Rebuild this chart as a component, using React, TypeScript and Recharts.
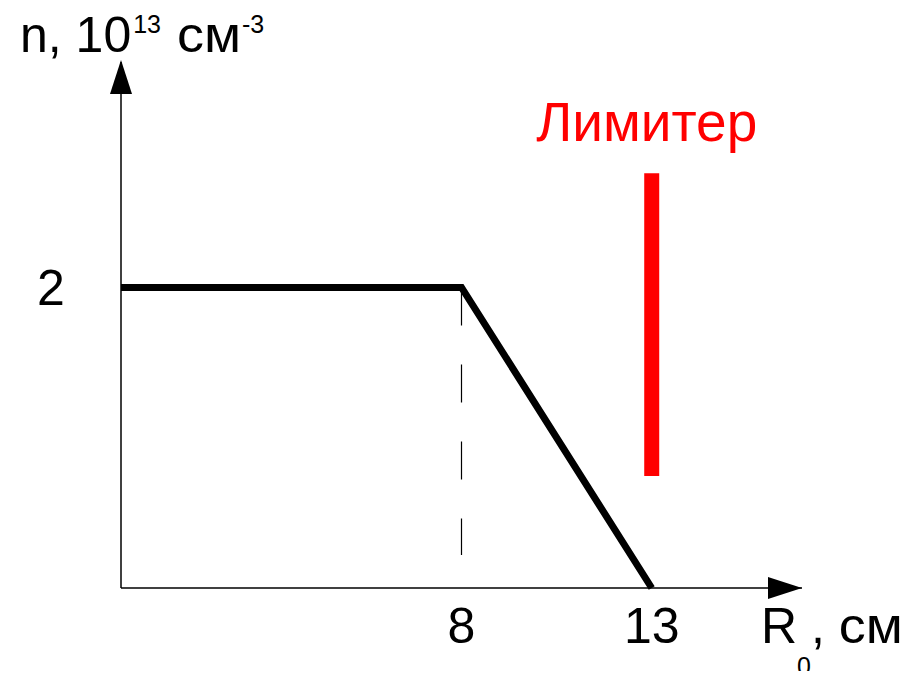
import { LineChart, Line, XAxis, YAxis, ReferenceLine, ReferenceDot, Label } from 'recharts'

// radius (cm) vs plasma density (10^13 cm^-3), schematic profile
const radius = [-0.95, 8, 13]
const density = [2, 2, 0]

const xDomain = [-0.95, 16.95]
const yDomain = [0, 3.5]
const xTicks = [8, 13]
const yTicks = [2]

// dashed guide at the knee and the limiter position
const kneeR = 8
const kneeTop = 2
const kneeBottom = 0.22
const limiterR = 13
const limiterTop = 2.76
const limiterBottom = 0.745
const limiterText = 'Лимитер'

const data = radius.map((r, i) => ({ r, n: density[i] }))

const FONT = '"Liberation Sans", Arial, sans-serif'

const XTick = ({ x, payload }: any) => (
  <text x={x} y={643} textAnchor="middle" fontSize={50} fontFamily={FONT} fill="#000">
    {payload.value}
  </text>
)

const YTick = ({ y, payload }: any) => (
  <text x={51} y={y + 18} textAnchor="middle" fontSize={50} fontFamily={FONT} fill="#000">
    {payload.value}
  </text>
)

const RightArrow = ({ cx, cy }: any) => (
  <path d={`M${cx},${cy} L${cx - 34},${cy - 11} L${cx - 34},${cy + 11} Z`} fill="#000" />
)

const UpArrow = ({ cx, cy }: any) => (
  <path d={`M${cx},${cy - 2} L${cx - 11},${cy + 32} L${cx + 11},${cy + 32} Z`} fill="#000" />
)

const YTitle = () => (
  <text x={20} y={52} fontSize={50} fontFamily={FONT} fill="#000">
    n, 10
    <tspan fontSize={25} dy={-19} dx={2}>13</tspan>
    <tspan dy={19} dx={16} textLength={64} lengthAdjust="spacingAndGlyphs">см</tspan>
    <tspan fontSize={25} dy={-19} dx={1}>-3</tspan>
  </text>
)

const XTitle = () => (
  <text x={761} y={643} fontSize={50} fontFamily={FONT} fill="#000">
    R
    <tspan fontSize={25} dy={32}>0</tspan>
    <tspan dy={-32}>, </tspan>
    <tspan textLength={64} lengthAdjust="spacingAndGlyphs">см</tspan>
  </text>
)

const LimiterLabel = ({ viewBox }: any) => (
  <text
    x={viewBox.x - 5}
    y={viewBox.y - 32}
    textAnchor="middle"
    fontSize={55}
    fontFamily={FONT}
    fill="#ff0000"
  >
    {limiterText}
  </text>
)

export default function App() {
  return (
    <LineChart
      width={920}
      height={679}
      data={data}
      margin={{ top: 62, right: 118, bottom: 0, left: 0 }}
      style={{ margin: -8 }}
    >
      <XAxis
        dataKey="r"
        type="number"
        domain={xDomain}
        ticks={xTicks}
        tick={<XTick />}
        tickLine={false}
        height={91}
        axisLine={{ stroke: '#000', strokeWidth: 1.5 }}
      >
        <Label content={<XTitle />} />
      </XAxis>
      <YAxis
        type="number"
        domain={yDomain}
        ticks={yTicks}
        tick={<YTick />}
        tickLine={false}
        width={121}
        axisLine={{ stroke: '#000', strokeWidth: 1.5 }}
      >
        <Label content={<YTitle />} />
      </YAxis>
      <ReferenceLine
        segment={[
          { x: kneeR, y: kneeTop },
          { x: kneeR, y: kneeBottom },
        ]}
        stroke="#000"
        strokeWidth={1.2}
        strokeDasharray="38 39"
      />
      <ReferenceLine
        segment={[
          { x: limiterR, y: limiterTop },
          { x: limiterR, y: limiterBottom },
        ]}
        stroke="#ff0000"
        strokeWidth={15}
        label={<LimiterLabel />}
      />
      <Line
        dataKey="n"
        type="linear"
        stroke="#000"
        strokeWidth={7}
        dot={false}
        activeDot={false}
        isAnimationActive={false}
      />
      <ReferenceDot x={xDomain[1]} y={0} shape={<RightArrow />} />
      <ReferenceDot x={xDomain[0]} y={yDomain[1]} shape={<UpArrow />} />
    </LineChart>
  )
}
